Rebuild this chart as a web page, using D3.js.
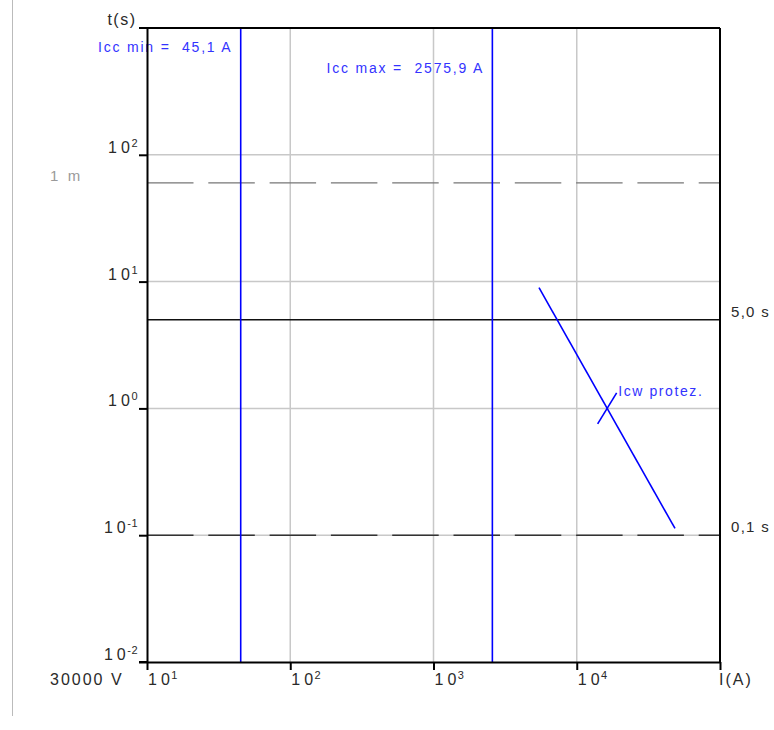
<!DOCTYPE html>
<html>
<head>
<meta charset="utf-8">
<script src="https://cdn.jsdelivr.net/npm/d3@7"></script>
<style>
  html, body { margin: 0; padding: 0; background: #fff; }
  svg text { font-family: "Liberation Sans", Arial, sans-serif; }
</style>
</head>
<body>
<svg id="chart" width="774" height="730"></svg>
<script>
// Decade ticks on both log axes
const xTickValues = [10, 100, 1000, 10000, 100000];
const xTickExponents = ["1", "2", "3", "4", ""];
const yTickValues = [0.01, 0.1, 1, 10, 100];
const yTickExponents = ["-2", "-1", "0", "1", "2"];

// Short-circuit currents (A)
const iccCurrents = [45.1, 2575.9];
const iccLabels = ["Icc min =  45,1 A", "Icc max =  2575,9 A"];

// Reference times (s)
const refTimes = [60, 5, 0.1];
const refLabels = ["1 m", "5,0 s", "0,1 s"];

// Withstand curve of the protection (I²t = const)
const icwCurrents = [5450, 48500];
const icwTimes = [8.97, 0.113];
const icwMarkCurrent = 16300;
const icwMarkTime = 1;

const svg = d3.select("#chart");
const x = d3.scaleLog().domain([10, 100000]).range([147, 720]);
const y = d3.scaleLog().domain([0.01, 1000]).range([662, 28]);
const [x0, x1] = x.range();
const [y0, y1] = y.range();

const textCol = "#2a2a2a";
const blue = "#0000ff";
const blueText = "#3333ff";

// left margin rule
svg.append("line").attr("x1", 12.5).attr("x2", 12.5).attr("y1", 0).attr("y2", 716)
  .attr("stroke", "#bbb").attr("stroke-width", 1);

// grid
const grid = svg.append("g");
grid.selectAll("line.gx").data(xTickValues.slice(1, -1)).join("line")
  .attr("x1", d => x(d)).attr("x2", d => x(d)).attr("y1", y1).attr("y2", y0)
  .attr("stroke", "#c8c8c8").attr("stroke-width", 1.5);
grid.selectAll("line.gy").data(yTickValues.slice(1)).join("line")
  .attr("x1", x0).attr("x2", x1).attr("y1", d => y(d)).attr("y2", d => y(d))
  .attr("stroke", "#c8c8c8").attr("stroke-width", 1.5);

// reference time lines
const refStyle = [
  { stroke: "#777", dash: "46.5 14.8", width: 1.2 },
  { stroke: "#111", dash: null, width: 1.5 },
  { stroke: "#333", dash: "46.5 14.8", width: 1.5 }
];
refTimes.forEach((t, i) => {
  svg.append("line").attr("x1", x0).attr("x2", x1).attr("y1", y(t)).attr("y2", y(t))
    .attr("stroke", refStyle[i].stroke).attr("stroke-width", refStyle[i].width)
    .attr("stroke-dasharray", refStyle[i].dash);
});
svg.append("text").attr("x", 50).attr("y", y(refTimes[0]) - 2)
  .attr("fill", "#9a9a9a").attr("font-size", 15).attr("letter-spacing", 2.6)
  .text(refLabels[0]);
[1, 2].forEach(i => {
  svg.append("text").attr("x", 731).attr("y", y(refTimes[i]) - 3)
    .attr("fill", textCol).attr("font-size", 15).attr("letter-spacing", 1.3)
    .text(refLabels[i]);
});

// Icc vertical lines
iccCurrents.forEach((c, i) => {
  svg.append("line").attr("x1", x(c)).attr("x2", x(c)).attr("y1", y1).attr("y2", y0)
    .attr("stroke", blue).attr("stroke-width", 1.6);
  svg.append("text").attr("x", x(c) - 10 + 1.8).attr("y", i === 0 ? 52 : 73)
    .attr("text-anchor", "end").attr("fill", blueText).attr("font-size", 14)
    .attr("letter-spacing", 1.8).attr("xml:space", "preserve")
    .text(iccLabels[i]);
});

// Icw protection curve
const line = d3.line().x(d => x(d[0])).y(d => y(d[1]));
svg.append("path").datum(icwCurrents.map((c, i) => [c, icwTimes[i]]))
  .attr("d", line).attr("fill", "none").attr("stroke", blue).attr("stroke-width", 1.6);
const mx = x(icwMarkCurrent), my = y(icwMarkTime);
svg.append("line").attr("x1", mx - 9.5).attr("y1", my + 15.5).attr("x2", mx + 9.5).attr("y2", my - 15.5)
  .attr("stroke", blue).attr("stroke-width", 1.6);
svg.append("text").attr("x", mx + 11).attr("y", my - 12)
  .attr("fill", blueText).attr("font-size", 14).attr("letter-spacing", 1.6)
  .text("Icw protez.");

// frame
svg.append("line").attr("x1", x1).attr("x2", x1).attr("y1", y1).attr("y2", y0)
  .attr("stroke", "#000").attr("stroke-width", 2);
svg.append("line").attr("x1", x0 - 8).attr("x2", x1).attr("y1", y1).attr("y2", y1)
  .attr("stroke", "#000").attr("stroke-width", 2);

// axes
const xAxis = svg.append("g").attr("transform", `translate(0,${y0})`)
  .call(d3.axisBottom(x).tickValues(xTickValues).tickSize(8).tickSizeOuter(0).tickFormat(""));
const yAxis = svg.append("g").attr("transform", `translate(${x0},0)`)
  .call(d3.axisLeft(y).tickValues(yTickValues).tickSize(8).tickSizeOuter(0).tickFormat(""));
[xAxis, yAxis].forEach(a => {
  a.select(".domain").attr("stroke", "#000").attr("stroke-width", 2);
  a.selectAll(".tick line").attr("stroke", "#000").attr("stroke-width", 2);
});
xAxis.append("line").attr("x1", x0 - 8).attr("x2", x0).attr("y1", 0).attr("y2", 0)
  .attr("stroke", "#000").attr("stroke-width", 2);

// tick labels with superscripted exponents
function powerLabel(g, exp) {
  g.append("tspan").text("1");
  g.append("tspan").attr("dx", 4).text("0");
  if (exp) g.append("tspan").attr("dx", 1.5).attr("dy", -6).attr("font-size", 11)
    .attr("letter-spacing", 0.5).text(exp);
}
xTickValues.forEach((v, i) => {
  if (!xTickExponents[i]) return;
  const t = svg.append("text").attr("x", x(v) + 1).attr("y", 685)
    .attr("fill", textCol).attr("font-size", 16);
  powerLabel(t, xTickExponents[i]);
});
yTickValues.forEach((v, i) => {
  const t = svg.append("text").attr("x", 138).attr("y", y(v) - 2)
    .attr("text-anchor", "end").attr("fill", textCol).attr("font-size", 16);
  powerLabel(t, yTickExponents[i]);
});

// axis titles
svg.append("text").attr("x", 136.5).attr("y", 25).attr("text-anchor", "end")
  .attr("fill", textCol).attr("font-size", 16).attr("letter-spacing", 1.5).text("t(s)");
svg.append("text").attr("x", 719).attr("y", 685)
  .attr("fill", textCol).attr("font-size", 16).attr("letter-spacing", 2).text("I(A)");
svg.append("text").attr("x", 50).attr("y", 685)
  .attr("fill", textCol).attr("font-size", 16).attr("letter-spacing", 2).text("30000 V");
</script>
</body>
</html>
